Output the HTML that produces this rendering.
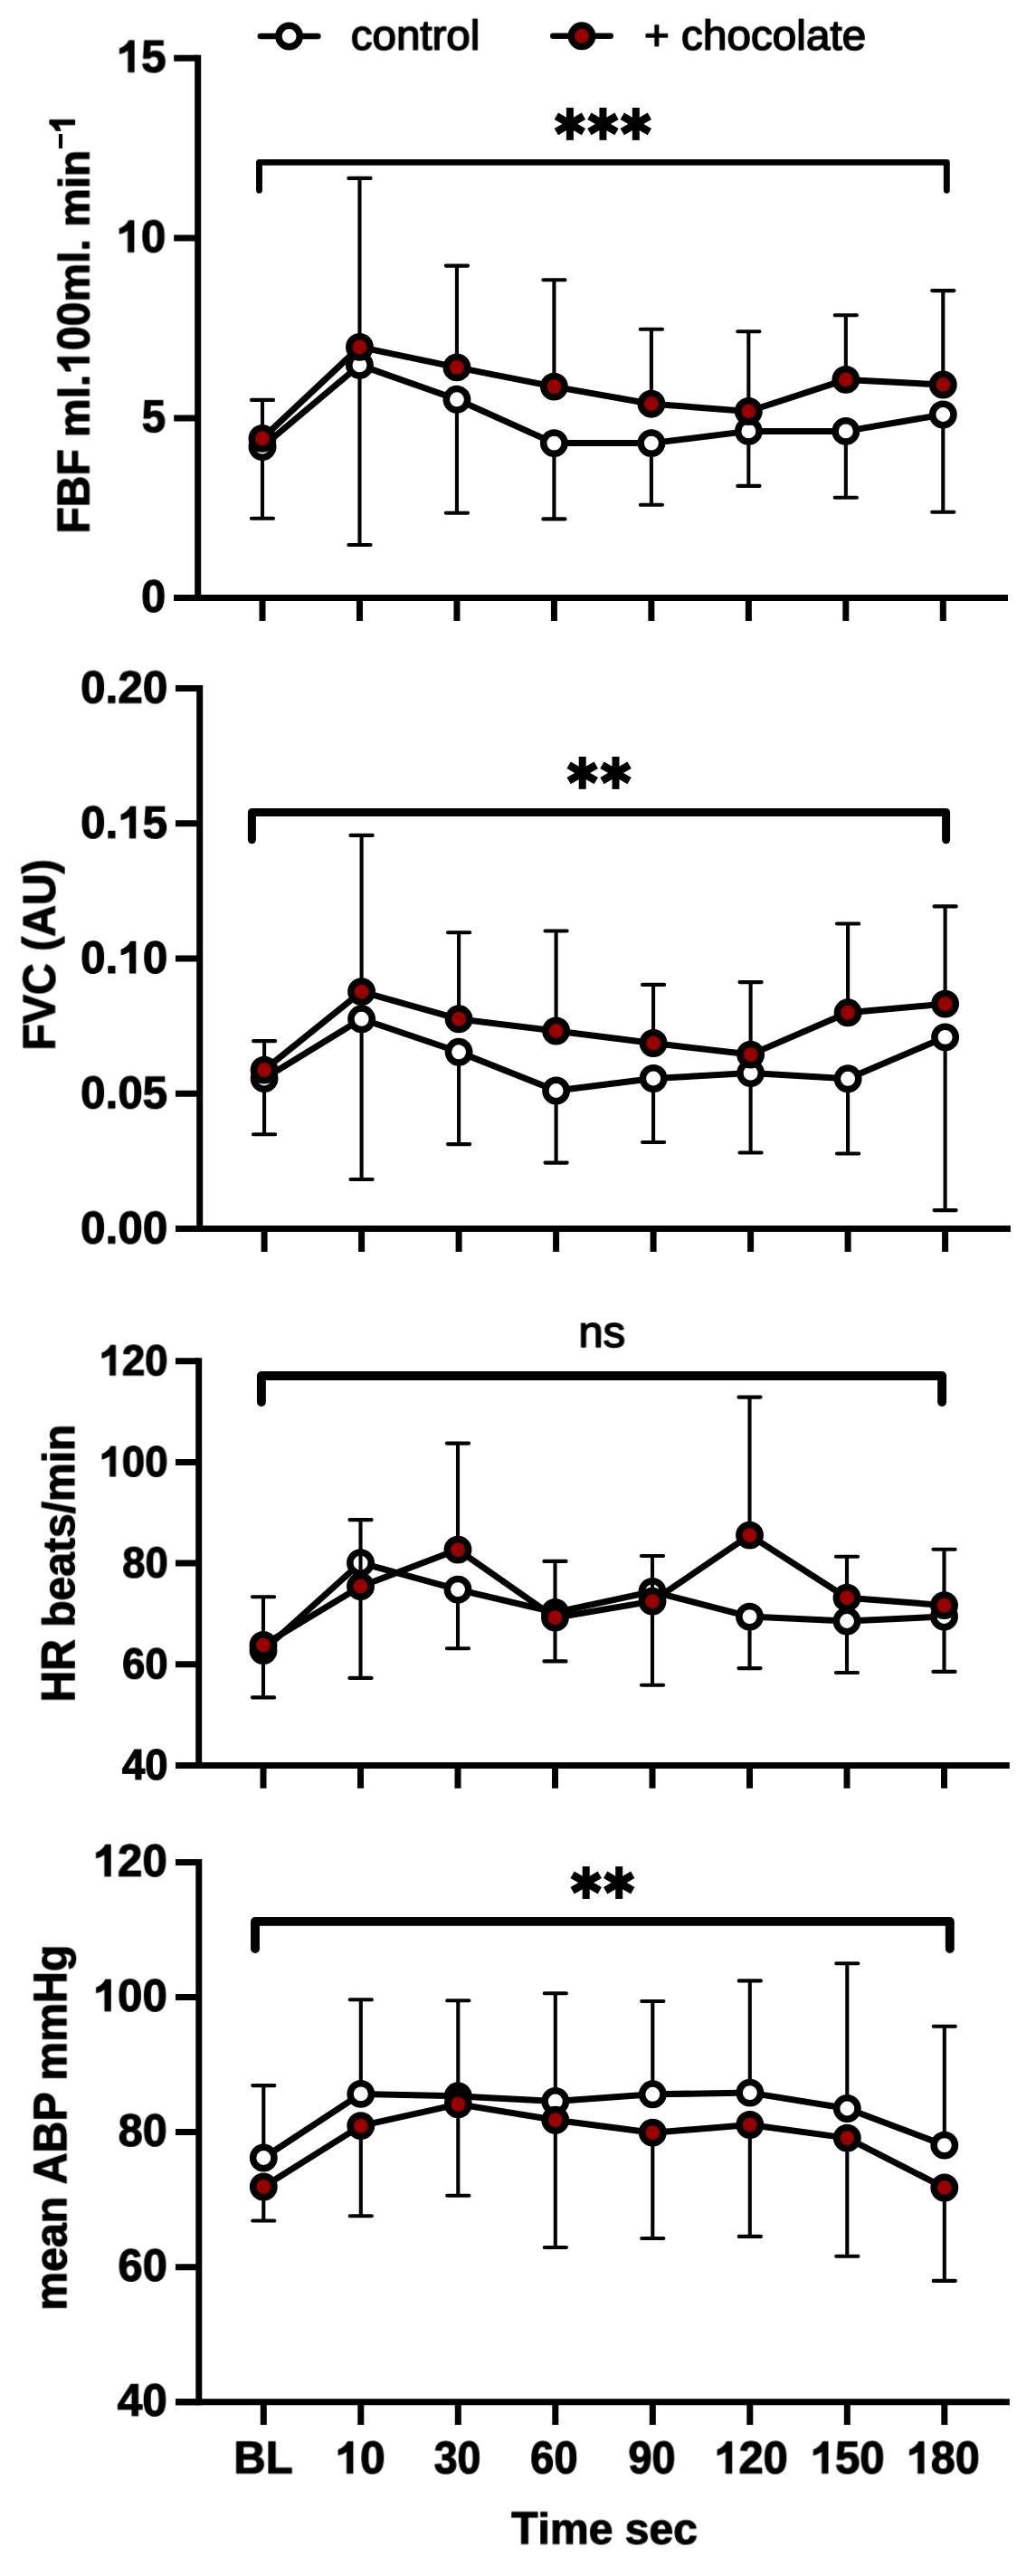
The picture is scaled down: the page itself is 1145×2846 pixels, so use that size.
<!DOCTYPE html>
<html lang="en"><head><meta charset="utf-8"><title>Chocolate vs control haemodynamics</title>
<style>html,body{margin:0;padding:0;background:#fff}svg{display:block}text{font-family:"Liberation Sans",sans-serif;fill:#000;text-rendering:geometricPrecision}</style></head><body>
<svg width="1145" height="2846" viewBox="0 0 1145 2846">
<defs><filter id="g" x="-5%" y="-20%" width="110%" height="140%" color-interpolation-filters="sRGB"><feOffset dx="0" dy="0"/></filter></defs>
<rect width="1145" height="2846" fill="#fff"/>
<path d="M287.9 40L351.3 40" stroke="#000" stroke-width="6.6" stroke-linecap="round" fill="none"/>
<circle cx="319.6" cy="40" r="11.7" fill="#fff" stroke="#000" stroke-width="7.5"/>
<path d="M611.3 39.8L674.7 39.8" stroke="#000" stroke-width="6.6" stroke-linecap="round" fill="none"/>
<circle cx="643" cy="39.8" r="11.7" fill="#960000" stroke="#000" stroke-width="7.5"/>
<g transform="translate(387.78 54.7) rotate(0.03) scale(0.4750 0.4630)" filter="url(#g)"><text x="0" y="0" font-size="100" textLength="300.16" stroke="#000" stroke-width="3.41" stroke-linejoin="round">control</text></g>
<g transform="translate(711.92 54.7) rotate(0.03) scale(0.4768 0.4630)" filter="url(#g)"><text x="0" y="0" font-size="100" textLength="514.27" stroke="#000" stroke-width="3.4" stroke-linejoin="round">+ chocolate</text></g>
<path d="M218.7 60.7L218.7 664.1" stroke="#000" stroke-width="7" fill="none"/>
<path d="M192.2 660.6L1114 660.6" stroke="#000" stroke-width="7" fill="none"/>
<path d="M192.2 64.2L218.7 64.2M192.2 263.1L218.7 263.1M192.2 461.9L218.7 461.9M192.2 660.6L218.7 660.6M290 660.6L290 685.9M397.47 660.6L397.47 685.9M504.94 660.6L504.94 685.9M612.41 660.6L612.41 685.9M719.88 660.6L719.88 685.9M827.35 660.6L827.35 685.9M934.82 660.6L934.82 685.9M1042.29 660.6L1042.29 685.9" stroke="#000" stroke-width="7" fill="none"/>
<g transform="translate(128.59 79.5) rotate(0.03) scale(0.4948 0.5050)" filter="url(#g)"><path transform="translate(0 0)" d="M39.36 0H26.8V-48.6Q18.6-42.9 7.91-40.1V-50.9Q13.28-52.9 19.58-57.6Q25.88-62.3 28.6-68.8H39.36Z" stroke="#000" stroke-width="2.4" stroke-linejoin="round"/><text x="55.6" y="0" font-size="100" font-weight="bold" textLength="55.62" stroke="#000" stroke-width="2.4" stroke-linejoin="round">5</text></g>
<g transform="translate(128.4 278.4) rotate(0.03) scale(0.4930 0.5050)" filter="url(#g)"><path transform="translate(0 0)" d="M39.36 0H26.8V-48.6Q18.6-42.9 7.91-40.1V-50.9Q13.28-52.9 19.58-57.6Q25.88-62.3 28.6-68.8H39.36Z" stroke="#000" stroke-width="2.4" stroke-linejoin="round"/><text x="55.6" y="0" font-size="100" font-weight="bold" textLength="55.62" stroke="#000" stroke-width="2.4" stroke-linejoin="round">0</text></g>
<g transform="translate(156.68 477.2) rotate(0.03) scale(0.4744 0.5050)" filter="url(#g)"><text x="0" y="0" font-size="100" font-weight="bold" textLength="55.62" stroke="#000" stroke-width="2.45" stroke-linejoin="round">5</text></g>
<g transform="translate(156.15 675.9) rotate(0.03) scale(0.4863 0.5050)" filter="url(#g)"><text x="0" y="0" font-size="100" font-weight="bold" textLength="55.62" stroke="#000" stroke-width="2.42" stroke-linejoin="round">0</text></g>
<path d="M290 493.6L290 572.8M277.9 572.8L302.1 572.8" fill="none" stroke="#000" stroke-width="4.1" stroke-linecap="round"/>
<path d="M397.47 403.4L397.47 602M385.37 602L409.57 602" fill="none" stroke="#000" stroke-width="4.1" stroke-linecap="round"/>
<path d="M504.94 441.3L504.94 566.8M492.84 566.8L517.04 566.8" fill="none" stroke="#000" stroke-width="4.1" stroke-linecap="round"/>
<path d="M612.41 489.6L612.41 573.4M600.31 573.4L624.51 573.4" fill="none" stroke="#000" stroke-width="4.1" stroke-linecap="round"/>
<path d="M719.88 489.6L719.88 557.7M707.78 557.7L731.98 557.7" fill="none" stroke="#000" stroke-width="4.1" stroke-linecap="round"/>
<path d="M827.35 476.4L827.35 536.9M815.25 536.9L839.45 536.9" fill="none" stroke="#000" stroke-width="4.1" stroke-linecap="round"/>
<path d="M934.82 476.4L934.82 549.7M922.72 549.7L946.92 549.7" fill="none" stroke="#000" stroke-width="4.1" stroke-linecap="round"/>
<path d="M1042.29 458L1042.29 565.7M1030.19 565.7L1054.39 565.7" fill="none" stroke="#000" stroke-width="4.1" stroke-linecap="round"/>
<polyline points="290,493.6 397.47,403.4 504.94,441.3 612.41,489.6 719.88,489.6 827.35,476.4 934.82,476.4 1042.29,458" fill="none" stroke="#000" stroke-width="7" stroke-linejoin="round"/>
<circle cx="290" cy="493.6" r="11.7" fill="#fff" stroke="#000" stroke-width="7.5"/>
<circle cx="397.47" cy="403.4" r="11.7" fill="#fff" stroke="#000" stroke-width="7.5"/>
<circle cx="504.94" cy="441.3" r="11.7" fill="#fff" stroke="#000" stroke-width="7.5"/>
<circle cx="612.41" cy="489.6" r="11.7" fill="#fff" stroke="#000" stroke-width="7.5"/>
<circle cx="719.88" cy="489.6" r="11.7" fill="#fff" stroke="#000" stroke-width="7.5"/>
<circle cx="827.35" cy="476.4" r="11.7" fill="#fff" stroke="#000" stroke-width="7.5"/>
<circle cx="934.82" cy="476.4" r="11.7" fill="#fff" stroke="#000" stroke-width="7.5"/>
<circle cx="1042.29" cy="458" r="11.7" fill="#fff" stroke="#000" stroke-width="7.5"/>
<path d="M290 484.4L290 441.9M277.9 441.9L302.1 441.9" fill="none" stroke="#000" stroke-width="4.1" stroke-linecap="round"/>
<path d="M397.47 383.4L397.47 196.9M385.37 196.9L409.57 196.9" fill="none" stroke="#000" stroke-width="4.1" stroke-linecap="round"/>
<path d="M504.94 405.9L504.94 293.6M492.84 293.6L517.04 293.6" fill="none" stroke="#000" stroke-width="4.1" stroke-linecap="round"/>
<path d="M612.41 427.1L612.41 309.3M600.31 309.3L624.51 309.3" fill="none" stroke="#000" stroke-width="4.1" stroke-linecap="round"/>
<path d="M719.88 446.2L719.88 363.8M707.78 363.8L731.98 363.8" fill="none" stroke="#000" stroke-width="4.1" stroke-linecap="round"/>
<path d="M827.35 454.5L827.35 366.3M815.25 366.3L839.45 366.3" fill="none" stroke="#000" stroke-width="4.1" stroke-linecap="round"/>
<path d="M934.82 419.4L934.82 348.2M922.72 348.2L946.92 348.2" fill="none" stroke="#000" stroke-width="4.1" stroke-linecap="round"/>
<path d="M1042.29 425L1042.29 321.1M1030.19 321.1L1054.39 321.1" fill="none" stroke="#000" stroke-width="4.1" stroke-linecap="round"/>
<polyline points="290,484.4 397.47,383.4 504.94,405.9 612.41,427.1 719.88,446.2 827.35,454.5 934.82,419.4 1042.29,425" fill="none" stroke="#000" stroke-width="7" stroke-linejoin="round"/>
<circle cx="290" cy="484.4" r="11.7" fill="#960000" stroke="#000" stroke-width="7.5"/>
<circle cx="397.47" cy="383.4" r="11.7" fill="#960000" stroke="#000" stroke-width="7.5"/>
<circle cx="504.94" cy="405.9" r="11.7" fill="#960000" stroke="#000" stroke-width="7.5"/>
<circle cx="612.41" cy="427.1" r="11.7" fill="#960000" stroke="#000" stroke-width="7.5"/>
<circle cx="719.88" cy="446.2" r="11.7" fill="#960000" stroke="#000" stroke-width="7.5"/>
<circle cx="827.35" cy="454.5" r="11.7" fill="#960000" stroke="#000" stroke-width="7.5"/>
<circle cx="934.82" cy="419.4" r="11.7" fill="#960000" stroke="#000" stroke-width="7.5"/>
<circle cx="1042.29" cy="425" r="11.7" fill="#960000" stroke="#000" stroke-width="7.5"/>
<path d="M286.5 210.35L286.5 179.4L1046.3 179.4L1046.3 210.35" fill="none" stroke="#000" stroke-width="6.9" stroke-linecap="round" stroke-linejoin="round"/>
<path d="M629.9 118.95L629.9 154.85" stroke="#000" stroke-width="8" fill="none"/>
<path d="M614.83 128.2L644.97 145.6" stroke="#000" stroke-width="8.6" fill="none"/>
<path d="M614.83 145.6L644.97 128.2" stroke="#000" stroke-width="8.6" fill="none"/>
<path d="M666.4 118.95L666.4 154.85" stroke="#000" stroke-width="8" fill="none"/>
<path d="M651.33 128.2L681.47 145.6" stroke="#000" stroke-width="8.6" fill="none"/>
<path d="M651.33 145.6L681.47 128.2" stroke="#000" stroke-width="8.6" fill="none"/>
<path d="M702.8 118.95L702.8 154.85" stroke="#000" stroke-width="8" fill="none"/>
<path d="M687.73 128.2L717.87 145.6" stroke="#000" stroke-width="8.6" fill="none"/>
<path d="M687.73 145.6L717.87 128.2" stroke="#000" stroke-width="8.6" fill="none"/>
<g transform="translate(98.5 589.54) rotate(-90) scale(0.4798 0.5050)" filter="url(#g)"><text x="0" y="0" font-size="100" font-weight="bold" textLength="194.39" stroke="#000" stroke-width="2.44" stroke-linejoin="round">FBF</text><text transform="translate(222.18 0) scale(1 0.949)" y="0" font-size="100" font-weight="bold" textLength="144.49" stroke="#000" stroke-width="2.44" stroke-linejoin="round">ml.</text><path transform="translate(366.66 0)" d="M39.36 0H26.8V-48.6Q18.6-42.9 7.91-40.1V-50.9Q13.28-52.9 19.58-57.6Q25.88-62.3 28.6-68.8H39.36Z" stroke="#000" stroke-width="2.44" stroke-linejoin="round"/><text x="422.26" y="0" font-size="100" font-weight="bold" textLength="111.23" stroke="#000" stroke-width="2.44" stroke-linejoin="round">00</text><text transform="translate(533.5 0) scale(1 0.949)" y="0" font-size="100" font-weight="bold" textLength="350.06" stroke="#000" stroke-width="2.44" stroke-linejoin="round">ml. min</text></g>
<rect x="64.9" y="148" width="4.2" height="16"/>
<g transform="translate(82.1 146.79) rotate(-90) scale(0.3529 0.3900)" filter="url(#g)"><path transform="translate(0 0)" d="M39.36 0H26.8V-48.6Q18.6-42.9 7.91-40.1V-50.9Q13.28-52.9 19.58-57.6Q25.88-62.3 28.6-68.8H39.36Z" stroke="#000" stroke-width="4.85" stroke-linejoin="round"/></g>
<path d="M220.7 757L220.7 1361.1" stroke="#000" stroke-width="7" fill="none"/>
<path d="M194 1357.6L1116.9 1357.6" stroke="#000" stroke-width="7" fill="none"/>
<path d="M194 760.5L220.7 760.5M194 909.8L220.7 909.8M194 1059L220.7 1059M194 1208.3L220.7 1208.3M194 1357.6L220.7 1357.6M292.1 1357.6L292.1 1382.9M399.6 1357.6L399.6 1382.9M507.1 1357.6L507.1 1382.9M614.6 1357.6L614.6 1382.9M722.1 1357.6L722.1 1382.9M829.6 1357.6L829.6 1382.9M937.1 1357.6L937.1 1382.9M1044.6 1357.6L1044.6 1382.9" stroke="#000" stroke-width="7" fill="none"/>
<g transform="translate(89.12 776.5) rotate(0.03) scale(0.4938 0.5050)" filter="url(#g)"><text x="0" y="0" font-size="100" font-weight="bold" textLength="194.64" stroke="#000" stroke-width="2.4" stroke-linejoin="round">0.20</text></g>
<g transform="translate(89.13 925.8) rotate(0.03) scale(0.4932 0.5050)" filter="url(#g)"><text x="0" y="0" font-size="100" font-weight="bold" textLength="83.4" stroke="#000" stroke-width="2.4" stroke-linejoin="round">0.</text><path transform="translate(83.4 0)" d="M39.36 0H26.8V-48.6Q18.6-42.9 7.91-40.1V-50.9Q13.28-52.9 19.58-57.6Q25.88-62.3 28.6-68.8H39.36Z" stroke="#000" stroke-width="2.4" stroke-linejoin="round"/><text x="139" y="0" font-size="100" font-weight="bold" textLength="55.62" stroke="#000" stroke-width="2.4" stroke-linejoin="round">5</text></g>
<g transform="translate(89.12 1075) rotate(0.03) scale(0.4938 0.5050)" filter="url(#g)"><text x="0" y="0" font-size="100" font-weight="bold" textLength="83.4" stroke="#000" stroke-width="2.4" stroke-linejoin="round">0.</text><path transform="translate(83.4 0)" d="M39.36 0H26.8V-48.6Q18.6-42.9 7.91-40.1V-50.9Q13.28-52.9 19.58-57.6Q25.88-62.3 28.6-68.8H39.36Z" stroke="#000" stroke-width="2.4" stroke-linejoin="round"/><text x="139" y="0" font-size="100" font-weight="bold" textLength="55.62" stroke="#000" stroke-width="2.4" stroke-linejoin="round">0</text></g>
<g transform="translate(89.13 1224.3) rotate(0.03) scale(0.4932 0.5050)" filter="url(#g)"><text x="0" y="0" font-size="100" font-weight="bold" textLength="194.64" stroke="#000" stroke-width="2.4" stroke-linejoin="round">0.05</text></g>
<g transform="translate(89.12 1373.6) rotate(0.03) scale(0.4938 0.5050)" filter="url(#g)"><text x="0" y="0" font-size="100" font-weight="bold" textLength="194.64" stroke="#000" stroke-width="2.4" stroke-linejoin="round">0.00</text></g>
<path d="M292.1 1191.5L292.1 1253.3M280 1253.3L304.2 1253.3" fill="none" stroke="#000" stroke-width="4.1" stroke-linecap="round"/>
<path d="M399.6 1125.8L399.6 1303M387.5 1303L411.7 1303" fill="none" stroke="#000" stroke-width="4.1" stroke-linecap="round"/>
<path d="M507.1 1162.3L507.1 1264.1M495 1264.1L519.2 1264.1" fill="none" stroke="#000" stroke-width="4.1" stroke-linecap="round"/>
<path d="M614.6 1205L614.6 1284.6M602.5 1284.6L626.7 1284.6" fill="none" stroke="#000" stroke-width="4.1" stroke-linecap="round"/>
<path d="M722.1 1191.5L722.1 1262M710 1262L734.2 1262" fill="none" stroke="#000" stroke-width="4.1" stroke-linecap="round"/>
<path d="M829.6 1185.6L829.6 1273.5M817.5 1273.5L841.7 1273.5" fill="none" stroke="#000" stroke-width="4.1" stroke-linecap="round"/>
<path d="M937.1 1191.8L937.1 1274.5M925 1274.5L949.2 1274.5" fill="none" stroke="#000" stroke-width="4.1" stroke-linecap="round"/>
<path d="M1044.6 1145.9L1044.6 1337.1M1032.5 1337.1L1056.7 1337.1" fill="none" stroke="#000" stroke-width="4.1" stroke-linecap="round"/>
<polyline points="292.1,1191.5 399.6,1125.8 507.1,1162.3 614.6,1205 722.1,1191.5 829.6,1185.6 937.1,1191.8 1044.6,1145.9" fill="none" stroke="#000" stroke-width="7" stroke-linejoin="round"/>
<circle cx="292.1" cy="1191.5" r="11.7" fill="#fff" stroke="#000" stroke-width="7.5"/>
<circle cx="399.6" cy="1125.8" r="11.7" fill="#fff" stroke="#000" stroke-width="7.5"/>
<circle cx="507.1" cy="1162.3" r="11.7" fill="#fff" stroke="#000" stroke-width="7.5"/>
<circle cx="614.6" cy="1205" r="11.7" fill="#fff" stroke="#000" stroke-width="7.5"/>
<circle cx="722.1" cy="1191.5" r="11.7" fill="#fff" stroke="#000" stroke-width="7.5"/>
<circle cx="829.6" cy="1185.6" r="11.7" fill="#fff" stroke="#000" stroke-width="7.5"/>
<circle cx="937.1" cy="1191.8" r="11.7" fill="#fff" stroke="#000" stroke-width="7.5"/>
<circle cx="1044.6" cy="1145.9" r="11.7" fill="#fff" stroke="#000" stroke-width="7.5"/>
<path d="M292.1 1182.1L292.1 1150.1M280 1150.1L304.2 1150.1" fill="none" stroke="#000" stroke-width="4.1" stroke-linecap="round"/>
<path d="M399.6 1095.6L399.6 922.9M387.5 922.9L411.7 922.9" fill="none" stroke="#000" stroke-width="4.1" stroke-linecap="round"/>
<path d="M507.1 1125.8L507.1 1030.2M495 1030.2L519.2 1030.2" fill="none" stroke="#000" stroke-width="4.1" stroke-linecap="round"/>
<path d="M614.6 1139L614.6 1028.5M602.5 1028.5L626.7 1028.5" fill="none" stroke="#000" stroke-width="4.1" stroke-linecap="round"/>
<path d="M722.1 1152.5L722.1 1087.9M710 1087.9L734.2 1087.9" fill="none" stroke="#000" stroke-width="4.1" stroke-linecap="round"/>
<path d="M829.6 1165.1L829.6 1085.1M817.5 1085.1L841.7 1085.1" fill="none" stroke="#000" stroke-width="4.1" stroke-linecap="round"/>
<path d="M937.1 1118.8L937.1 1020.5M925 1020.5L949.2 1020.5" fill="none" stroke="#000" stroke-width="4.1" stroke-linecap="round"/>
<path d="M1044.6 1109.1L1044.6 1001.4M1032.5 1001.4L1056.7 1001.4" fill="none" stroke="#000" stroke-width="4.1" stroke-linecap="round"/>
<polyline points="292.1,1182.1 399.6,1095.6 507.1,1125.8 614.6,1139 722.1,1152.5 829.6,1165.1 937.1,1118.8 1044.6,1109.1" fill="none" stroke="#000" stroke-width="7" stroke-linejoin="round"/>
<circle cx="292.1" cy="1182.1" r="11.7" fill="#960000" stroke="#000" stroke-width="7.5"/>
<circle cx="399.6" cy="1095.6" r="11.7" fill="#960000" stroke="#000" stroke-width="7.5"/>
<circle cx="507.1" cy="1125.8" r="11.7" fill="#960000" stroke="#000" stroke-width="7.5"/>
<circle cx="614.6" cy="1139" r="11.7" fill="#960000" stroke="#000" stroke-width="7.5"/>
<circle cx="722.1" cy="1152.5" r="11.7" fill="#960000" stroke="#000" stroke-width="7.5"/>
<circle cx="829.6" cy="1165.1" r="11.7" fill="#960000" stroke="#000" stroke-width="7.5"/>
<circle cx="937.1" cy="1118.8" r="11.7" fill="#960000" stroke="#000" stroke-width="7.5"/>
<circle cx="1044.6" cy="1109.1" r="11.7" fill="#960000" stroke="#000" stroke-width="7.5"/>
<path d="M278.4 927.7L278.4 897.5L1045.6 897.5L1045.6 927.7" fill="none" stroke="#000" stroke-width="9" stroke-linecap="round" stroke-linejoin="round"/>
<path d="M643.7 835.95L643.7 871.85" stroke="#000" stroke-width="8" fill="none"/>
<path d="M628.63 845.2L658.77 862.6" stroke="#000" stroke-width="8.6" fill="none"/>
<path d="M628.63 862.6L658.77 845.2" stroke="#000" stroke-width="8.6" fill="none"/>
<path d="M680.5 835.95L680.5 871.85" stroke="#000" stroke-width="8" fill="none"/>
<path d="M665.43 845.2L695.57 862.6" stroke="#000" stroke-width="8.6" fill="none"/>
<path d="M665.43 862.6L695.57 845.2" stroke="#000" stroke-width="8.6" fill="none"/>
<g transform="translate(60.6 1160.55) rotate(-90) scale(0.4813 0.5050)" filter="url(#g)"><text x="0" y="0" font-size="100" font-weight="bold" textLength="438.83" stroke="#000" stroke-width="2.43" stroke-linejoin="round">FVC (AU)</text></g>
<path d="M219.7 1500.3L219.7 1953.9" stroke="#000" stroke-width="7" fill="none"/>
<path d="M194 1950.4L1115.8 1950.4" stroke="#000" stroke-width="7" fill="none"/>
<path d="M194 1503.8L219.7 1503.8M194 1615.5L219.7 1615.5M194 1727.1L219.7 1727.1M194 1838.8L219.7 1838.8M194 1950.4L219.7 1950.4M291 1950.4L291 1975.7M398.5 1950.4L398.5 1975.7M506 1950.4L506 1975.7M613.5 1950.4L613.5 1975.7M721 1950.4L721 1975.7M828.5 1950.4L828.5 1975.7M936 1950.4L936 1975.7M1043.5 1950.4L1043.5 1975.7" stroke="#000" stroke-width="7" fill="none"/>
<g transform="translate(109.38 1519.3) rotate(0.03) scale(0.4570 0.4780)" filter="url(#g)"><path transform="translate(0 0)" d="M39.36 0H26.8V-48.6Q18.6-42.9 7.91-40.1V-50.9Q13.28-52.9 19.58-57.6Q25.88-62.3 28.6-68.8H39.36Z" stroke="#000" stroke-width="2.57" stroke-linejoin="round"/><text x="55.6" y="0" font-size="100" font-weight="bold" textLength="111.23" stroke="#000" stroke-width="2.57" stroke-linejoin="round">20</text></g>
<g transform="translate(109.49 1631) rotate(0.03) scale(0.4564 0.4780)" filter="url(#g)"><path transform="translate(0 0)" d="M39.36 0H26.8V-48.6Q18.6-42.9 7.91-40.1V-50.9Q13.28-52.9 19.58-57.6Q25.88-62.3 28.6-68.8H39.36Z" stroke="#000" stroke-width="2.57" stroke-linejoin="round"/><text x="55.6" y="0" font-size="100" font-weight="bold" textLength="111.23" stroke="#000" stroke-width="2.57" stroke-linejoin="round">00</text></g>
<g transform="translate(135.33 1742.6) rotate(0.03) scale(0.4520 0.4780)" filter="url(#g)"><text x="0" y="0" font-size="100" font-weight="bold" textLength="111.23" stroke="#000" stroke-width="2.58" stroke-linejoin="round">80</text></g>
<g transform="translate(135.1 1854.3) rotate(0.03) scale(0.4542 0.4780)" filter="url(#g)"><text x="0" y="0" font-size="100" font-weight="bold" textLength="111.23" stroke="#000" stroke-width="2.57" stroke-linejoin="round">60</text></g>
<g transform="translate(134.92 1965.9) rotate(0.03) scale(0.4559 0.4780)" filter="url(#g)"><text x="0" y="0" font-size="100" font-weight="bold" textLength="111.23" stroke="#000" stroke-width="2.57" stroke-linejoin="round">40</text></g>
<path d="M291 1823.5L291 1875.4M278.9 1875.4L303.1 1875.4" fill="none" stroke="#000" stroke-width="4.1" stroke-linecap="round"/>
<path d="M398.5 1726.7L398.5 1853.9M386.4 1853.9L410.6 1853.9" fill="none" stroke="#000" stroke-width="4.1" stroke-linecap="round"/>
<path d="M506 1756.2L506 1821.2M493.9 1821.2L518.1 1821.2" fill="none" stroke="#000" stroke-width="4.1" stroke-linecap="round"/>
<path d="M613.5 1781.4L613.5 1835.4M601.4 1835.4L625.6 1835.4" fill="none" stroke="#000" stroke-width="4.1" stroke-linecap="round"/>
<path d="M721 1758.4L721 1861.8M708.9 1861.8L733.1 1861.8" fill="none" stroke="#000" stroke-width="4.1" stroke-linecap="round"/>
<path d="M828.5 1786.1L828.5 1843.1M816.4 1843.1L840.6 1843.1" fill="none" stroke="#000" stroke-width="4.1" stroke-linecap="round"/>
<path d="M936 1791L936 1848M923.9 1848L948.1 1848" fill="none" stroke="#000" stroke-width="4.1" stroke-linecap="round"/>
<path d="M1043.5 1786L1043.5 1846.9M1031.4 1846.9L1055.6 1846.9" fill="none" stroke="#000" stroke-width="4.1" stroke-linecap="round"/>
<polyline points="291,1823.5 398.5,1726.7 506,1756.2 613.5,1781.4 721,1758.4 828.5,1786.1 936,1791 1043.5,1786" fill="none" stroke="#000" stroke-width="7" stroke-linejoin="round"/>
<circle cx="291" cy="1823.5" r="11.7" fill="#fff" stroke="#000" stroke-width="7.5"/>
<circle cx="398.5" cy="1726.7" r="11.7" fill="#fff" stroke="#000" stroke-width="7.5"/>
<circle cx="506" cy="1756.2" r="11.7" fill="#fff" stroke="#000" stroke-width="7.5"/>
<circle cx="613.5" cy="1781.4" r="11.7" fill="#fff" stroke="#000" stroke-width="7.5"/>
<circle cx="721" cy="1758.4" r="11.7" fill="#fff" stroke="#000" stroke-width="7.5"/>
<circle cx="828.5" cy="1786.1" r="11.7" fill="#fff" stroke="#000" stroke-width="7.5"/>
<circle cx="936" cy="1791" r="11.7" fill="#fff" stroke="#000" stroke-width="7.5"/>
<circle cx="1043.5" cy="1786" r="11.7" fill="#fff" stroke="#000" stroke-width="7.5"/>
<path d="M291 1817.5L291 1764.2M278.9 1764.2L303.1 1764.2" fill="none" stroke="#000" stroke-width="4.1" stroke-linecap="round"/>
<path d="M398.5 1752.7L398.5 1679.1M386.4 1679.1L410.6 1679.1" fill="none" stroke="#000" stroke-width="4.1" stroke-linecap="round"/>
<path d="M506 1712.1L506 1594.6M493.9 1594.6L518.1 1594.6" fill="none" stroke="#000" stroke-width="4.1" stroke-linecap="round"/>
<path d="M613.5 1787.2L613.5 1724.9M601.4 1724.9L625.6 1724.9" fill="none" stroke="#000" stroke-width="4.1" stroke-linecap="round"/>
<path d="M721 1769.1L721 1719M708.9 1719L733.1 1719" fill="none" stroke="#000" stroke-width="4.1" stroke-linecap="round"/>
<path d="M828.5 1696.1L828.5 1543.6M816.4 1543.6L840.6 1543.6" fill="none" stroke="#000" stroke-width="4.1" stroke-linecap="round"/>
<path d="M936 1765.2L936 1719.7M923.9 1719.7L948.1 1719.7" fill="none" stroke="#000" stroke-width="4.1" stroke-linecap="round"/>
<path d="M1043.5 1773.6L1043.5 1711.7M1031.4 1711.7L1055.6 1711.7" fill="none" stroke="#000" stroke-width="4.1" stroke-linecap="round"/>
<polyline points="291,1817.5 398.5,1752.7 506,1712.1 613.5,1787.2 721,1769.1 828.5,1696.1 936,1765.2 1043.5,1773.6" fill="none" stroke="#000" stroke-width="7" stroke-linejoin="round"/>
<circle cx="291" cy="1817.5" r="11.7" fill="#960000" stroke="#000" stroke-width="7.5"/>
<circle cx="398.5" cy="1752.7" r="11.7" fill="#960000" stroke="#000" stroke-width="7.5"/>
<circle cx="506" cy="1712.1" r="11.7" fill="#960000" stroke="#000" stroke-width="7.5"/>
<circle cx="613.5" cy="1787.2" r="11.7" fill="#960000" stroke="#000" stroke-width="7.5"/>
<circle cx="721" cy="1769.1" r="11.7" fill="#960000" stroke="#000" stroke-width="7.5"/>
<circle cx="828.5" cy="1696.1" r="11.7" fill="#960000" stroke="#000" stroke-width="7.5"/>
<circle cx="936" cy="1765.2" r="11.7" fill="#960000" stroke="#000" stroke-width="7.5"/>
<circle cx="1043.5" cy="1773.6" r="11.7" fill="#960000" stroke="#000" stroke-width="7.5"/>
<path d="M288.9 1548.95L288.9 1520L1041.1 1520L1041.1 1548.95" fill="none" stroke="#000" stroke-width="9.9" stroke-linecap="round" stroke-linejoin="round"/>
<g transform="translate(639.4 1488.1) rotate(0.03) scale(0.4892 0.4860)" filter="url(#g)"><text x="0" y="0" font-size="100" textLength="105.62" stroke="#000" stroke-width="3.28" stroke-linejoin="round">ns</text></g>
<g transform="translate(82.1 1880.54) rotate(-90) scale(0.4802 0.5210)" filter="url(#g)"><text x="0" y="0" font-size="100" font-weight="bold" textLength="144.44" stroke="#000" stroke-width="2.4" stroke-linejoin="round">HR</text><text transform="translate(172.22 0) scale(1 0.949)" y="0" font-size="100" font-weight="bold" textLength="466.81" stroke="#000" stroke-width="2.4" stroke-linejoin="round">beats/min</text></g>
<path d="M219.8 2054.1L219.8 2657.2" stroke="#000" stroke-width="7" fill="none"/>
<path d="M194 2653.7L1115.8 2653.7" stroke="#000" stroke-width="7" fill="none"/>
<path d="M194 2057.6L219.8 2057.6M194 2206.6L219.8 2206.6M194 2355.6L219.8 2355.6M194 2504.7L219.8 2504.7M194 2653.7L219.8 2653.7M291.3 2653.7L291.3 2679M398.8 2653.7L398.8 2679M506.3 2653.7L506.3 2679M613.8 2653.7L613.8 2679M721.3 2653.7L721.3 2679M828.8 2653.7L828.8 2679M936.3 2653.7L936.3 2679M1043.8 2653.7L1043.8 2679" stroke="#000" stroke-width="7" fill="none"/>
<g transform="translate(102.71 2072.8) rotate(0.03) scale(0.4920 0.5050)" filter="url(#g)"><path transform="translate(0 0)" d="M39.36 0H26.8V-48.6Q18.6-42.9 7.91-40.1V-50.9Q13.28-52.9 19.58-57.6Q25.88-62.3 28.6-68.8H39.36Z" stroke="#000" stroke-width="2.41" stroke-linejoin="round"/><text x="55.6" y="0" font-size="100" font-weight="bold" textLength="111.23" stroke="#000" stroke-width="2.41" stroke-linejoin="round">20</text></g>
<g transform="translate(102.81 2221.8) rotate(0.03) scale(0.4913 0.5050)" filter="url(#g)"><path transform="translate(0 0)" d="M39.36 0H26.8V-48.6Q18.6-42.9 7.91-40.1V-50.9Q13.28-52.9 19.58-57.6Q25.88-62.3 28.6-68.8H39.36Z" stroke="#000" stroke-width="2.41" stroke-linejoin="round"/><text x="55.6" y="0" font-size="100" font-weight="bold" textLength="111.23" stroke="#000" stroke-width="2.41" stroke-linejoin="round">00</text></g>
<g transform="translate(130.72 2370.8) rotate(0.03) scale(0.4858 0.5050)" filter="url(#g)"><text x="0" y="0" font-size="100" font-weight="bold" textLength="111.23" stroke="#000" stroke-width="2.42" stroke-linejoin="round">80</text></g>
<g transform="translate(130.47 2519.9) rotate(0.03) scale(0.4881 0.5050)" filter="url(#g)"><text x="0" y="0" font-size="100" font-weight="bold" textLength="111.23" stroke="#000" stroke-width="2.42" stroke-linejoin="round">60</text></g>
<g transform="translate(129.76 2668.9) rotate(0.03) scale(0.4948 0.5050)" filter="url(#g)"><text x="0" y="0" font-size="100" font-weight="bold" textLength="111.23" stroke="#000" stroke-width="2.4" stroke-linejoin="round">40</text></g>
<path d="M291.3 2384L291.3 2304.1M279.2 2304.1L303.4 2304.1" fill="none" stroke="#000" stroke-width="4.1" stroke-linecap="round"/>
<path d="M398.8 2313.4L398.8 2209.2M386.7 2209.2L410.9 2209.2" fill="none" stroke="#000" stroke-width="4.1" stroke-linecap="round"/>
<path d="M506.3 2315.8L506.3 2210.3M494.2 2210.3L518.4 2210.3" fill="none" stroke="#000" stroke-width="4.1" stroke-linecap="round"/>
<path d="M613.8 2321.5L613.8 2202.3M601.7 2202.3L625.9 2202.3" fill="none" stroke="#000" stroke-width="4.1" stroke-linecap="round"/>
<path d="M721.3 2313.8L721.3 2211M709.2 2211L733.4 2211" fill="none" stroke="#000" stroke-width="4.1" stroke-linecap="round"/>
<path d="M828.8 2312.1L828.8 2188.4M816.7 2188.4L840.9 2188.4" fill="none" stroke="#000" stroke-width="4.1" stroke-linecap="round"/>
<path d="M936.3 2329.5L936.3 2169.3M924.2 2169.3L948.4 2169.3" fill="none" stroke="#000" stroke-width="4.1" stroke-linecap="round"/>
<path d="M1043.8 2370.1L1043.8 2238.8M1031.7 2238.8L1055.9 2238.8" fill="none" stroke="#000" stroke-width="4.1" stroke-linecap="round"/>
<polyline points="291.3,2384 398.8,2313.4 506.3,2315.8 613.8,2321.5 721.3,2313.8 828.8,2312.1 936.3,2329.5 1043.8,2370.1" fill="none" stroke="#000" stroke-width="7" stroke-linejoin="round"/>
<circle cx="291.3" cy="2384" r="11.7" fill="#fff" stroke="#000" stroke-width="7.5"/>
<circle cx="398.8" cy="2313.4" r="11.7" fill="#fff" stroke="#000" stroke-width="7.5"/>
<circle cx="506.3" cy="2315.8" r="11.7" fill="#000" stroke="#000" stroke-width="7.5"/>
<circle cx="613.8" cy="2321.5" r="11.7" fill="#fff" stroke="#000" stroke-width="7.5"/>
<circle cx="721.3" cy="2313.8" r="11.7" fill="#fff" stroke="#000" stroke-width="7.5"/>
<circle cx="828.8" cy="2312.1" r="11.7" fill="#fff" stroke="#000" stroke-width="7.5"/>
<circle cx="936.3" cy="2329.5" r="11.7" fill="#fff" stroke="#000" stroke-width="7.5"/>
<circle cx="1043.8" cy="2370.1" r="11.7" fill="#fff" stroke="#000" stroke-width="7.5"/>
<path d="M291.3 2416L291.3 2453.5M279.2 2453.5L303.4 2453.5" fill="none" stroke="#000" stroke-width="4.1" stroke-linecap="round"/>
<path d="M398.8 2348.6L398.8 2448.3M386.7 2448.3L410.9 2448.3" fill="none" stroke="#000" stroke-width="4.1" stroke-linecap="round"/>
<path d="M506.3 2324.8L506.3 2425.7M494.2 2425.7L518.4 2425.7" fill="none" stroke="#000" stroke-width="4.1" stroke-linecap="round"/>
<path d="M613.8 2342.3L613.8 2483M601.7 2483L625.9 2483" fill="none" stroke="#000" stroke-width="4.1" stroke-linecap="round"/>
<path d="M721.3 2356.2L721.3 2473M709.2 2473L733.4 2473" fill="none" stroke="#000" stroke-width="4.1" stroke-linecap="round"/>
<path d="M828.8 2347.5L828.8 2470.9M816.7 2470.9L840.9 2470.9" fill="none" stroke="#000" stroke-width="4.1" stroke-linecap="round"/>
<path d="M936.3 2362.1L936.3 2492.8M924.2 2492.8L948.4 2492.8" fill="none" stroke="#000" stroke-width="4.1" stroke-linecap="round"/>
<path d="M1043.8 2417L1043.8 2519.9M1031.7 2519.9L1055.9 2519.9" fill="none" stroke="#000" stroke-width="4.1" stroke-linecap="round"/>
<polyline points="291.3,2416 398.8,2348.6 506.3,2324.8 613.8,2342.3 721.3,2356.2 828.8,2347.5 936.3,2362.1 1043.8,2417" fill="none" stroke="#000" stroke-width="7" stroke-linejoin="round"/>
<circle cx="291.3" cy="2416" r="11.7" fill="#960000" stroke="#000" stroke-width="7.5"/>
<circle cx="398.8" cy="2348.6" r="11.7" fill="#960000" stroke="#000" stroke-width="7.5"/>
<circle cx="506.3" cy="2324.8" r="11.7" fill="#960000" stroke="#000" stroke-width="7.5"/>
<circle cx="613.8" cy="2342.3" r="11.7" fill="#960000" stroke="#000" stroke-width="7.5"/>
<circle cx="721.3" cy="2356.2" r="11.7" fill="#960000" stroke="#000" stroke-width="7.5"/>
<circle cx="828.8" cy="2347.5" r="11.7" fill="#960000" stroke="#000" stroke-width="7.5"/>
<circle cx="936.3" cy="2362.1" r="11.7" fill="#960000" stroke="#000" stroke-width="7.5"/>
<circle cx="1043.8" cy="2417" r="11.7" fill="#960000" stroke="#000" stroke-width="7.5"/>
<path d="M282 2153.05L282 2122.9L1049.8 2122.9L1049.8 2153.05" fill="none" stroke="#000" stroke-width="9.9" stroke-linecap="round" stroke-linejoin="round"/>
<path d="M647.7 2062.05L647.7 2097.95" stroke="#000" stroke-width="8" fill="none"/>
<path d="M632.63 2071.3L662.77 2088.7" stroke="#000" stroke-width="8.6" fill="none"/>
<path d="M632.63 2088.7L662.77 2071.3" stroke="#000" stroke-width="8.6" fill="none"/>
<path d="M684.2 2062.05L684.2 2097.95" stroke="#000" stroke-width="8" fill="none"/>
<path d="M669.13 2071.3L699.27 2088.7" stroke="#000" stroke-width="8.6" fill="none"/>
<path d="M669.13 2088.7L699.27 2071.3" stroke="#000" stroke-width="8.6" fill="none"/>
<g transform="translate(73.3 2552.74) rotate(-90) scale(0.4827 0.5180)" filter="url(#g)"><text transform="translate(0 0) scale(1 0.949)" y="0" font-size="100" font-weight="bold" textLength="261.24" stroke="#000" stroke-width="2.4" stroke-linejoin="round">mean</text><text x="289.02" y="0" font-size="100" font-weight="bold" textLength="211.14" stroke="#000" stroke-width="2.4" stroke-linejoin="round">ABP</text><text transform="translate(526.14 0) scale(1 0.949)" y="0" font-size="100" font-weight="bold" textLength="177.84" stroke="#000" stroke-width="2.4" stroke-linejoin="round">mm</text><text x="703.98" y="0" font-size="100" font-weight="bold" textLength="72.22" stroke="#000" stroke-width="2.4" stroke-linejoin="round">H</text><text transform="translate(776.2 0) scale(1 0.949)" y="0" font-size="100" font-weight="bold" textLength="61.09" stroke="#000" stroke-width="2.4" stroke-linejoin="round">g</text></g>
<g transform="translate(258.29 2732.4) rotate(0.03) scale(0.4907 0.5040)" filter="url(#g)"><text x="0" y="0" font-size="100" font-weight="bold" textLength="133.3" stroke="#000" stroke-width="2.41" stroke-linejoin="round">BL</text></g>
<g transform="translate(370.26 2732.4) rotate(0.03) scale(0.4980 0.5040)" filter="url(#g)"><path transform="translate(0 0)" d="M39.36 0H26.8V-48.6Q18.6-42.9 7.91-40.1V-50.9Q13.28-52.9 19.58-57.6Q25.88-62.3 28.6-68.8H39.36Z" stroke="#000" stroke-width="2.4" stroke-linejoin="round"/><text x="55.6" y="0" font-size="100" font-weight="bold" textLength="55.62" stroke="#000" stroke-width="2.4" stroke-linejoin="round">0</text></g>
<g transform="translate(479.76 2732.4) rotate(0.03) scale(0.4640 0.5040)" filter="url(#g)"><text x="0" y="0" font-size="100" font-weight="bold" textLength="111.23" stroke="#000" stroke-width="2.48" stroke-linejoin="round">30</text></g>
<g transform="translate(586.13 2732.4) rotate(0.03) scale(0.4717 0.5040)" filter="url(#g)"><text x="0" y="0" font-size="100" font-weight="bold" textLength="111.23" stroke="#000" stroke-width="2.46" stroke-linejoin="round">60</text></g>
<g transform="translate(694.46 2732.4) rotate(0.03) scale(0.4686 0.5040)" filter="url(#g)"><text x="0" y="0" font-size="100" font-weight="bold" textLength="111.23" stroke="#000" stroke-width="2.47" stroke-linejoin="round">90</text></g>
<g transform="translate(789.33 2732.4) rotate(0.03) scale(0.4887 0.5040)" filter="url(#g)"><path transform="translate(0 0)" d="M39.36 0H26.8V-48.6Q18.6-42.9 7.91-40.1V-50.9Q13.28-52.9 19.58-57.6Q25.88-62.3 28.6-68.8H39.36Z" stroke="#000" stroke-width="2.42" stroke-linejoin="round"/><text x="55.6" y="0" font-size="100" font-weight="bold" textLength="111.23" stroke="#000" stroke-width="2.42" stroke-linejoin="round">20</text></g>
<g transform="translate(895.5 2732.4) rotate(0.03) scale(0.4926 0.5040)" filter="url(#g)"><path transform="translate(0 0)" d="M39.36 0H26.8V-48.6Q18.6-42.9 7.91-40.1V-50.9Q13.28-52.9 19.58-57.6Q25.88-62.3 28.6-68.8H39.36Z" stroke="#000" stroke-width="2.41" stroke-linejoin="round"/><text x="55.6" y="0" font-size="100" font-weight="bold" textLength="111.23" stroke="#000" stroke-width="2.41" stroke-linejoin="round">50</text></g>
<g transform="translate(1001.76 2732.4) rotate(0.03) scale(0.4848 0.5040)" filter="url(#g)"><path transform="translate(0 0)" d="M39.36 0H26.8V-48.6Q18.6-42.9 7.91-40.1V-50.9Q13.28-52.9 19.58-57.6Q25.88-62.3 28.6-68.8H39.36Z" stroke="#000" stroke-width="2.43" stroke-linejoin="round"/><text x="55.6" y="0" font-size="100" font-weight="bold" textLength="111.23" stroke="#000" stroke-width="2.43" stroke-linejoin="round">80</text></g>
<g transform="translate(565.22 2810.4) rotate(0.03) scale(0.4806 0.5080)" filter="url(#g)"><text x="0" y="0" font-size="100" font-weight="bold" textLength="61.09" stroke="#000" stroke-width="2.43" stroke-linejoin="round">T</text><text transform="translate(61.09 0) scale(1 0.949)" y="0" font-size="100" font-weight="bold" textLength="366.96" stroke="#000" stroke-width="2.43" stroke-linejoin="round">ime sec</text></g>
</svg></body></html>
